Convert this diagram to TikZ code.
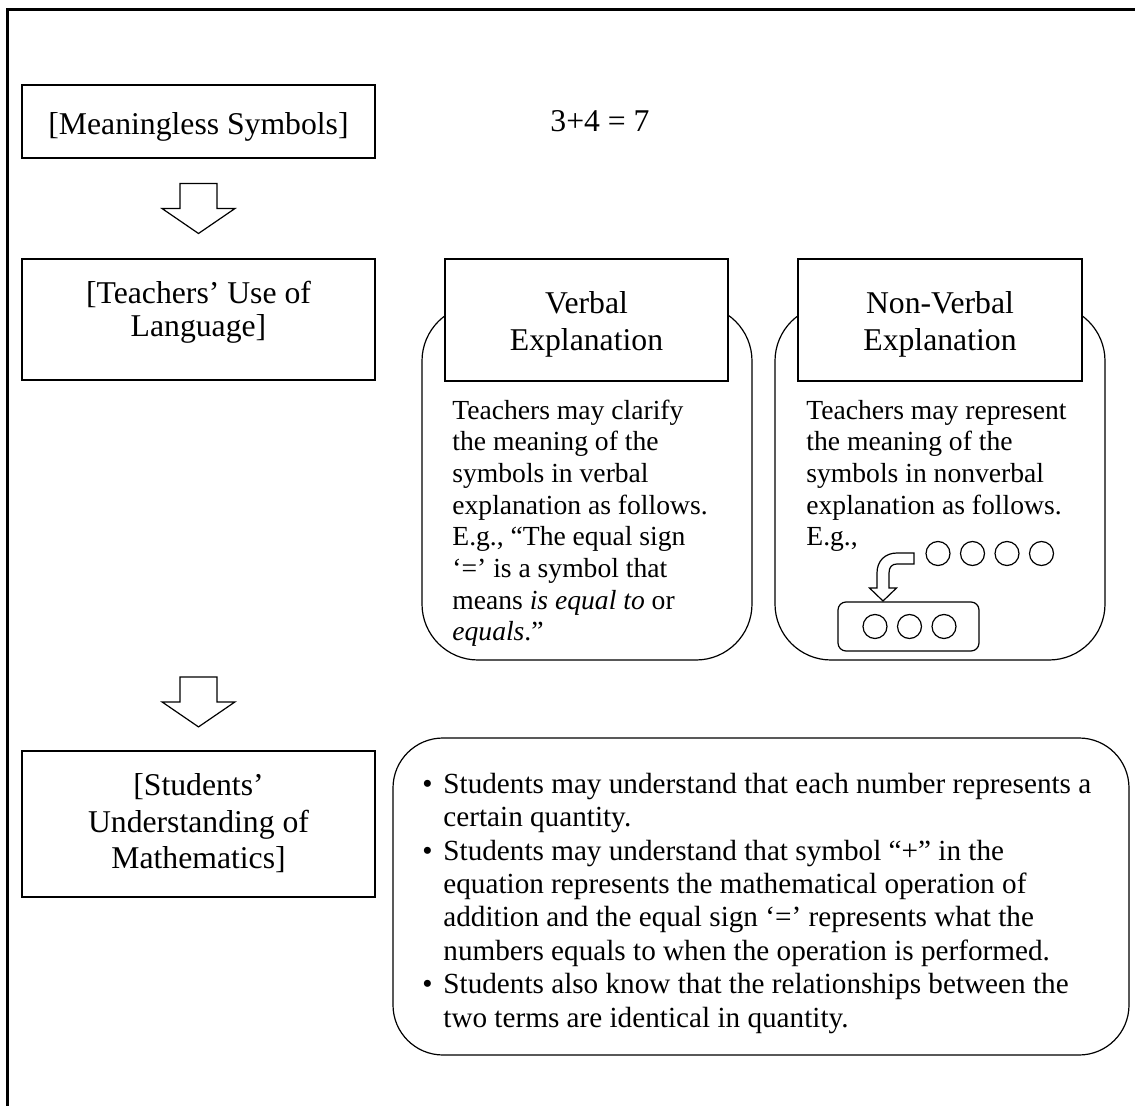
\documentclass[tikz,border=0pt]{standalone}
\usepackage{fontspec}
\setmainfont{Liberation Serif}
\usetikzlibrary{calc}
\begin{document}
\begin{tikzpicture}[x=0.5pt,y=-0.5pt,
  sq/.style={draw, line width=0.6pt, fill=white, inner sep=0pt, align=center},
  txt/.style={inner sep=0pt, align=center},
  big/.style={font=\fontsize{15.85}{#1}\selectfont},
  rnd/.style={draw, line width=0.6pt, fill=white, inner sep=0pt},
  body/.style={inner sep=0pt, anchor=north west, align=left, font=\fontsize{13.8}{15.85}\selectfont},
  lst/.style={inner sep=0pt, anchor=north west, align=left, font=\fontsize{14.6}{16.7}\selectfont},
  circ/.style={circle, draw, line width=0.6pt, minimum size=12pt, inner sep=0pt},
  downarr/.pic={\draw[line width=0.6pt, fill=white] (-18.5,0) -- (18.5,0) -- (18.5,25) -- (36.5,25) -- (0,50) -- (-36.5,25) -- (-18.5,25) -- cycle;}
]
\useasboundingbox (0,0) rectangle (1135,1106);
% frame
\draw[line width=1.5pt] (7,1106) -- (7,10) -- (1135,10);

% left column
\node[sq, minimum width=176.5pt, minimum height=36.5pt] (ms) at (198.5,121.5) {};
\node[txt, anchor=base, big=18.5] (msl) at (198.5,135) {[Meaningless Symbols]};
\node[sq, minimum width=176.5pt, minimum height=60.5pt] (tu) at (198.5,319.5) {};
\node[txt, big=16.35] (tul) at (198.5,312.5) {[Teachers’ Use of\\Language]};
\node[sq, minimum width=176.5pt, minimum height=73pt] (su) at (198.5,824) {};
\node[txt, big=18.2] (sul) at (198.5,823.5) {[Students’\\Understanding of\\Mathematics]};

\coordinate (a1) at ($(ms.south)!0.5!(tu.north)+(0,-25)$);
\pic at (a1) {downarr};
\coordinate (a2) at ($(su.north)+(0,-73.5)$);
\pic at (a2) {downarr};

% equation
\node[inner sep=0pt, anchor=base, font=\fontsize{15.85}{18.5}\selectfont] (eq) at (600,132) {3+4 = 7};

% verbal
\node[rnd, rounded corners=28pt, minimum width=165pt, minimum height=177.5pt] (vr) at (587,482.5) {};
\node[sq, minimum width=141.5pt, minimum height=61pt] (vt) at (586.5,320) {};
\node[txt, big=18.5] (vtl) at (586.5,324.5) {Verbal\\Explanation};
\node[body] (vtext) at (452,396.5) {\strut Teachers may clarify\\the meaning of the\\symbols in verbal\\explanation as follows.\\E.g., “The equal sign\\‘=’ is a symbol that\\means \textit{is equal to} or\\\textit{equals}.”};

% non-verbal
\node[rnd, rounded corners=28pt, minimum width=165pt, minimum height=177.5pt] (nr) at (940,482.5) {};
\node[sq, minimum width=142pt, minimum height=61pt] (nt) at (940,320) {};
\node[txt, big=18.5] (ntl) at (940,324.5) {Non-Verbal\\Explanation};
\node[body] (ntext) at (806,396.5) {\strut Teachers may represent\\the meaning of the\\symbols in nonverbal\\explanation as follows.\\E.g.,};

\node[circ] (c1) at (938,553.5) {};
\node[circ] (c2) at (972.5,553.5) {};
\node[circ] (c3) at (1007,553.5) {};
\node[circ] (c4) at (1041.5,553.5) {};
\node[rnd, rounded corners=4pt, minimum width=70.5pt, minimum height=24.5pt] (grp) at (908.5,626.5) {};
\node[circ] (d1) at (875,626.5) {};
\node[circ] (d2) at (909.5,626.5) {};
\node[circ] (d3) at (944,626.5) {};
\draw[line width=0.6pt, fill=white] (914,553) -- (897,553) .. controls (885,553) and (877,561) .. (877,573) -- (877,588) -- (869.5,588) -- (883,601) -- (896.5,588) -- (889,588) -- (889,573) .. controls (889,567) and (892,564) .. (897,564) -- (914,564) -- cycle;

% students' understanding box
\node[rnd, rounded corners=25pt, minimum width=368pt, minimum height=158.5pt] (sr) at (761,896.5) {};
\node[lst] (stext) at (422,769.6) {\strut\makebox[10.5pt][l]{\textbullet}Students may understand that each number represents a\\
\hspace*{10.5pt}certain quantity.\\
\makebox[10.5pt][l]{\textbullet}Students may understand that symbol “+” in the\\
\hspace*{10.5pt}equation represents the mathematical operation of\\
\hspace*{10.5pt}addition and the equal sign ‘=’ represents what the\\
\hspace*{10.5pt}numbers equals to when the operation is performed.\\
\makebox[10.5pt][l]{\textbullet}Students also know that the relationships between the\\
\hspace*{10.5pt}two terms are identical in quantity.};
\end{tikzpicture}
\end{document}
